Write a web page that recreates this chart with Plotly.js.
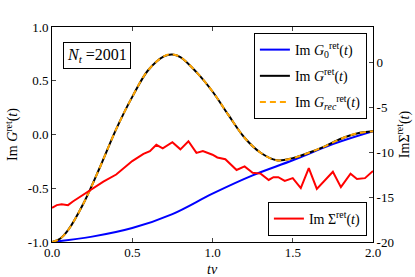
<!DOCTYPE html>
<html><head><meta charset="utf-8">
<script src="https://cdn.plot.ly/plotly-3.0.1.min.js"></script>
<style>html,body{margin:0;padding:0;background:#fff;}</style>
</head><body><div id="plot" style="width:415px;height:277px;"></div>
<script>
// Im G0^ret(t)
const tG0 = [0.0, 0.25, 0.5, 0.75, 1.0, 1.25, 1.5, 1.75, 2.0];
const vG0 = [-1.0, -0.95, -0.87, -0.74, -0.55, -0.38, -0.24, -0.09, 0.03];
// Im G^ret(t) and reconstructed
const tG = [0.0, 0.05, 0.1, 0.2, 0.3, 0.4, 0.5, 0.6, 0.7, 0.75, 0.8, 0.9, 1.0, 1.1, 1.2, 1.3, 1.4, 1.5, 1.6, 1.7, 1.8, 1.9, 2.0];
const vG = [-1.0, -0.97, -0.89, -0.63, -0.30, 0.05, 0.35, 0.60, 0.73, 0.745, 0.72, 0.58, 0.40, 0.18, -0.03, -0.17, -0.24, -0.22, -0.17, -0.11, -0.04, 0.01, 0.03];
const vGrec = [-1.0, -0.97, -0.89, -0.63, -0.30, 0.05, 0.35, 0.60, 0.73, 0.745, 0.72, 0.58, 0.40, 0.18, -0.03, -0.17, -0.24, -0.22, -0.17, -0.11, -0.04, 0.01, 0.03];
// Im Sigma^ret(t)
const tS = [0.00, 0.03, 0.06, 0.10, 0.13, 0.19, 0.26, 0.32, 0.40, 0.45, 0.50, 0.57, 0.61, 0.65, 0.69, 0.75, 0.80, 0.85, 0.90, 0.94, 1.00, 1.03, 1.08, 1.15, 1.20, 1.25, 1.30, 1.35, 1.38, 1.41, 1.45, 1.50, 1.55, 1.60, 1.65, 1.75, 1.80, 1.86, 1.90, 1.95, 2.00];
const vS = [-16.2, -15.9, -15.8, -15.9, -15.5, -14.8, -14.0, -13.3, -12.5, -11.8, -11.0, -10.2, -9.9, -9.2, -9.6, -8.9, -9.7, -8.8, -10.1, -9.9, -10.3, -10.6, -10.8, -12.0, -11.6, -12.3, -12.4, -13.1, -12.8, -12.8, -13.2, -12.9, -14.0, -11.8, -14.1, -12.2, -13.9, -12.4, -13.0, -12.9, -12.1];

const xTicks = [0, 0.5, 1.0, 1.5, 2.0];
const xTickText = ["0.0", "0.5", "1.0", "1.5", "2.0"];
const yTicks = [-1.0, -0.5, 0.0, 0.5, 1.0];
const yTickText = ["-1.0", "-0.5", "0.0", "0.5", "1.0"];
const y2Ticks = [-20, -15, -10, -5, 0];
const y2TickText = ["-20", "-15", "-10", "-5", "0"];

const F = '"Liberation Serif", serif';

const traces = [
  {x: tG0, y: vG0, type: 'scatter', mode: 'lines', line: {color: '#0000ff', width: 2, shape: 'spline'},
   name: 'Im <i>G</i><sub>0</sub><sup>ret</sup>(<i>t</i>)', legend: 'legend', legendgroup: 'a'},
  {x: tG, y: vG, type: 'scatter', mode: 'lines', line: {color: '#000000', width: 2, shape: 'spline'},
   name: 'Im <i>G</i><sup>ret</sup>(<i>t</i>)', legend: 'legend', legendgroup: 'b'},
  {x: tG, y: vGrec, type: 'scatter', mode: 'lines', line: {color: '#ffa500', width: 2, shape: 'spline', dash: '6px,4px'},
   name: 'Im <i>G</i><sub><i>rec</i></sub><sup>ret</sup>(<i>t</i>)', legend: 'legend', legendgroup: 'c'},
  {x: tS, y: vS, type: 'scatter', mode: 'lines', yaxis: 'y2', line: {color: '#ff0000', width: 2},
   name: 'Im Σ<sup>ret</sup>(<i>t</i>)', legend: 'legend2', legendgroup: 'd'}
];

const layout = {
  width: 415, height: 277,
  margin: {l: 52, r: 42, t: 27, b: 35},
  paper_bgcolor: '#fff', plot_bgcolor: '#fff',
  font: {family: F, size: 13, color: '#000'},
  showlegend: true,
  xaxis: {range: [0, 2], tickvals: xTicks, ticktext: xTickText, ticks: 'inside', ticklen: 4,
          showline: true, linecolor: '#000', linewidth: 1, mirror: 'ticks', showgrid: false, zeroline: false,
          tickfont: {family: F, size: 13}, ticklabelstandoff: -2},
  yaxis: {range: [-1, 1], tickvals: yTicks, ticktext: yTickText, ticks: 'inside', ticklen: 4,
          showline: true, linecolor: '#000', linewidth: 1, mirror: true, showgrid: false, zeroline: false,
          tickfont: {family: F, size: 13},
          title: {text: 'Im <i>G</i><sup>ret</sup>(<i>t</i>)', font: {family: F, size: 14}, standoff: 6}},
  yaxis2: {range: [-20, 3.9], tickvals: y2Ticks, ticktext: y2TickText, overlaying: 'y', side: 'right',
           ticks: 'inside', ticklen: 4, showline: true, linecolor: '#000', linewidth: 1,
           showgrid: false, zeroline: false, tickfont: {family: F, size: 13},
           title: {text: 'ImΣ<sup>ret</sup>(<i>t</i>)', font: {family: F, size: 14}, standoff: 2}},
  legend: {x: 0.981, y: 0.972, xanchor: 'right', yanchor: 'top', bgcolor: '#fff',
           bordercolor: '#000', borderwidth: 1, font: {family: F, size: 14}, itemwidth: 30, tracegroupgap: 5},
  legend2: {x: 0.981, y: 0.028, xanchor: 'right', yanchor: 'bottom', bgcolor: '#fff',
            bordercolor: '#000', borderwidth: 1, font: {family: F, size: 14}, itemwidth: 30},
  annotations: [
    {xref: 'paper', yref: 'paper', x: 0.5, y: 0.93, xanchor: 'left', yanchor: 'top', visible: false,
     text: '', showarrow: false},
    {xref: 'paper', yref: 'paper', x: 0.034, y: 0.93, xanchor: 'left', yanchor: 'top',
     text: '<i>N<sub>t</sub></i> =2001', showarrow: false, bordercolor: '#000', borderwidth: 1,
     borderpad: 3, bgcolor: '#fff', font: {family: F, size: 16}},
    {xref: 'paper', yref: 'paper', x: 0.5, y: -0.127, xanchor: 'center', yanchor: 'middle',
     text: '<i>tv</i>', showarrow: false, font: {family: F, size: 14}}
  ]
};

Plotly.newPlot('plot', traces, layout, {displayModeBar: false, staticPlot: true});
</script>
</body></html>
